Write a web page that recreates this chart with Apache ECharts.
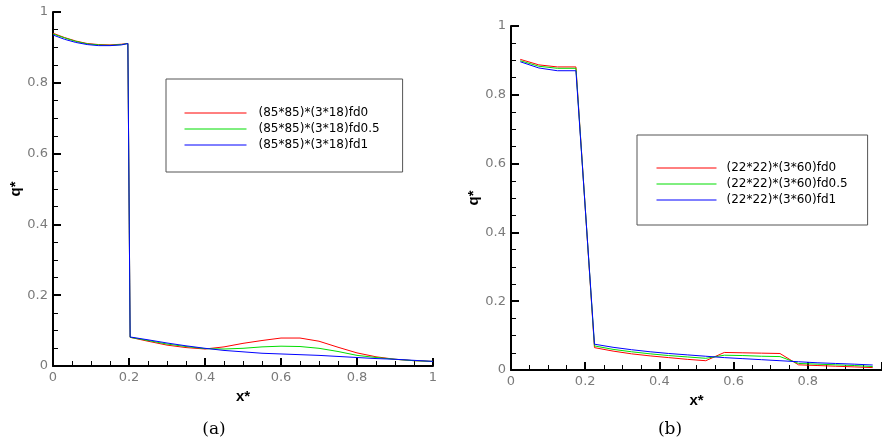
<!DOCTYPE html>
<html><head><meta charset="utf-8">
<script src="https://cdn.jsdelivr.net/npm/echarts@6/dist/echarts.min.js"></script>
<style>html,body{margin:0;padding:0;background:#fff}#c{width:882px;height:445px}</style>
</head><body><div id="c"></div>
<script>
// ---- Data (a) ----
const xA = [0, 0.03, 0.06, 0.09, 0.12, 0.15, 0.18, 0.197, 0.203, 0.25, 0.3, 0.35, 0.4, 0.45, 0.5, 0.55, 0.6, 0.65, 0.7, 0.75, 0.8, 0.85, 0.9, 0.95, 1.0];
const redA   = [0.940, 0.928, 0.918, 0.911, 0.908, 0.907, 0.909, 0.911, 0.081, 0.070, 0.059, 0.052, 0.048, 0.054, 0.064, 0.072, 0.079, 0.079, 0.070, 0.053, 0.037, 0.026, 0.019, 0.015, 0.013];
const greenA = [0.938, 0.927, 0.917, 0.910, 0.907, 0.906, 0.908, 0.911, 0.081, 0.072, 0.062, 0.055, 0.049, 0.048, 0.050, 0.054, 0.056, 0.055, 0.050, 0.041, 0.030, 0.024, 0.019, 0.015, 0.013];
const blueA  = [0.935, 0.923, 0.914, 0.908, 0.905, 0.905, 0.907, 0.911, 0.082, 0.074, 0.065, 0.057, 0.050, 0.044, 0.040, 0.036, 0.034, 0.032, 0.030, 0.027, 0.024, 0.021, 0.019, 0.016, 0.013];
const namesA = ['(85*85)*(3*18)fd0', '(85*85)*(3*18)fd0.5', '(85*85)*(3*18)fd1'];

// ---- Data (b) ----
const xB = [0.025, 0.075, 0.125, 0.175, 0.225, 0.275, 0.325, 0.375, 0.425, 0.475, 0.525, 0.575, 0.625, 0.675, 0.725, 0.775, 0.825, 0.875, 0.925, 0.975];
const redB   = [0.903, 0.887, 0.881, 0.881, 0.065, 0.055, 0.047, 0.041, 0.036, 0.031, 0.027, 0.051, 0.050, 0.049, 0.048, 0.015, 0.013, 0.011, 0.009, 0.007];
const greenB = [0.899, 0.883, 0.877, 0.877, 0.070, 0.060, 0.053, 0.047, 0.042, 0.038, 0.034, 0.043, 0.042, 0.040, 0.039, 0.019, 0.017, 0.015, 0.013, 0.010];
const blueB  = [0.896, 0.878, 0.870, 0.870, 0.075, 0.066, 0.059, 0.053, 0.048, 0.044, 0.040, 0.036, 0.033, 0.030, 0.027, 0.024, 0.021, 0.019, 0.017, 0.0145];
const namesB = ['(22*22)*(3*60)fd0', '(22*22)*(3*60)fd0.5', '(22*22)*(3*60)fd1'];

const tickValues = [0, 0.2, 0.4, 0.6, 0.8, 1];
const captions = ['(a)', '(b)'];
const colors = ['#ff0000', '#00dd00', '#0000ff'];

const zip = (xs, ys) => xs.map((x, i) => [x, ys[i]]);

function axis(kind, gi) {
  return {
    type: 'value', gridIndex: gi, min: tickValues[0], max: tickValues[tickValues.length - 1], interval: 0.2,
    name: kind === 'x' ? 'x*' : 'q*',
    nameLocation: 'middle',
    nameGap: kind === 'x' ? 16 : (gi === 0 ? 28 : 30),
    nameTextStyle: { fontFamily: 'Liberation Sans', fontWeight: 'bold', fontSize: 15, color: '#000' },
    axisLine: { show: true, onZero: false, lineStyle: { color: '#000', width: 2 } },
    axisTick: { show: true, inside: true, length: 8, lineStyle: { color: '#000', width: 2 } },
    minorTick: { show: true, splitNumber: 4, length: 5, lineStyle: { color: '#000', width: 1 } },
    splitLine: { show: false },
    axisLabel: { color: '#7a7a7a', fontFamily: 'DejaVu Sans', fontSize: 13, margin: 5,
                 showMaxLabel: !(kind === 'x' && gi === 1) }
  };
}

function series(names, xs, ys, gi) {
  return ys.map((y, k) => ({
    name: names[k], type: 'line', xAxisIndex: gi, yAxisIndex: gi,
    data: zip(xs, y), symbol: 'none', smooth: false,
    lineStyle: { color: colors[k], width: 1 }, itemStyle: { color: colors[k] },
    animation: false
  }));
}

const legendText = { fontFamily: 'DejaVu Sans', fontSize: 12, color: '#000' };

const option = {
  animation: false,
  grid: [
    { left: 53, right: 449, top: 12, bottom: 79 },
    { left: 511, right: -0.5, top: 26, bottom: 75 }
  ],
  xAxis: [axis('x', 0), axis('x', 1)],
  yAxis: [axis('y', 0), axis('y', 1)],
  legend: [
    { data: namesA, orient: 'vertical', left: 166, top: 79, itemWidth: 62, itemHeight: 13, itemGap: 4,
      padding: [28, 23, 21, 18], borderColor: '#555', borderWidth: 1,
      itemStyle: { opacity: 0 }, lineStyle: { width: 1 },
      textStyle: Object.assign({ padding: [0, 0, 0, 7] }, legendText), selectedMode: false },
    { data: namesB, orient: 'vertical', left: 637, top: 135, itemWidth: 60, itemHeight: 13, itemGap: 4,
      padding: [27, 20, 19, 19], borderColor: '#555', borderWidth: 1,
      itemStyle: { opacity: 0 }, lineStyle: { width: 1 },
      textStyle: Object.assign({ padding: [0, 0, 0, 5] }, legendText), selectedMode: false }
  ],
  graphic: [
    { type: 'text', x: 214, y: 430, style: { text: captions[0], font: '17px "DejaVu Serif"', fill: '#000', textAlign: 'center', textVerticalAlign: 'middle' } },
    { type: 'text', x: 670, y: 430, style: { text: captions[1], font: '17px "DejaVu Serif"', fill: '#000', textAlign: 'center', textVerticalAlign: 'middle' } }
  ],
  series: [].concat(series(namesA, xA, [redA, greenA, blueA], 0), series(namesB, xB, [redB, greenB, blueB], 1))
};

const chart = echarts.init(document.getElementById('c'), null, { renderer: 'canvas' });
chart.setOption(option);
</script>
</body></html>
